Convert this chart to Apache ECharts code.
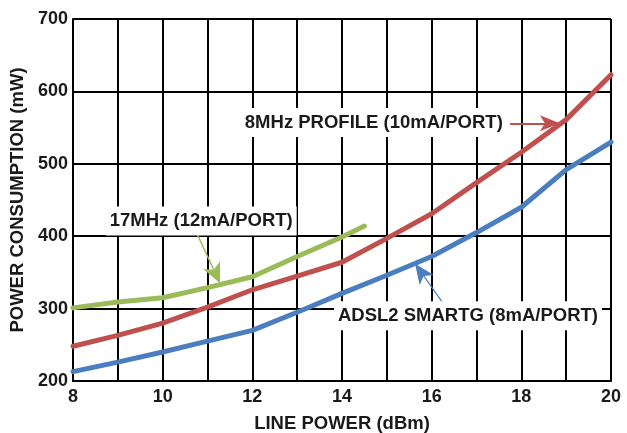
<!DOCTYPE html>
<html>
<head>
<meta charset="utf-8">
<script src="https://cdn.jsdelivr.net/npm/echarts@6/dist/echarts.min.js"></script>
<style>html,body{margin:0;padding:0;background:#fff}#c{width:627px;height:433px}</style>
</head>
<body>
<div id="c"></div>
<script>
// ---- data ----
const xAdsl = [8, 9, 10, 11, 12, 13, 14, 15, 16, 17, 18, 19, 20];
const yAdsl = [213, 226, 240, 255, 270, 295, 321, 346, 372, 405, 440, 492, 530];
const x8MHz = [8, 9, 10, 11, 12, 13, 14, 15, 16, 17, 18, 19, 20];
const y8MHz = [248, 263, 280, 302, 326, 345, 364, 397, 431, 474, 516, 561, 623];
const x17MHz = [8, 9, 10, 11, 12, 13, 14, 14.5];
const y17MHz = [301, 309, 315, 329, 344, 372, 399, 414];
const xTickLabels = ['8', '10', '12', '14', '16', '18', '20'];
const seriesNames = ['ADSL2 SMARTG (8mA/PORT)', '8MHz PROFILE (10mA/PORT)', '17MHz (12mA/PORT)'];
// annotation anchors in data units: label centre, arrow start, arrow tip
const lblAdsl = [16.81, 290]; const arrAdsl = [[16.26, 307], [15.63, 362]];
const lbl8 = [14.71, 557];    const arr8 = [[17.75, 556], [18.86, 556]];
const lbl17 = [10.86, 421];   const arr17 = [[10.76, 404], [11.28, 335]];

const FONT = '"Liberation Sans", Arial, sans-serif';
const TXT = '#1a1a1a';
const zip = (xs, ys) => xs.map((x, i) => [x, ys[i]]);

function mkSeries(name, data, color, lbl, arr, arrW, arrSize) {
  return {
    name, type: 'line', data, symbol: 'none', smooth: false,
    lineStyle: { color, width: 5, cap: 'round', join: 'round' },
    z: 3,
    markLine: {
      silent: true, symbol: ['none', 'arrow'], symbolSize: arrSize,
      lineStyle: { color, width: arrW, type: 'solid' },
      label: { show: false },
      data: [[{ coord: arr[0] }, { coord: arr[1] }]]
    },
    markPoint: {
      silent: true, symbol: 'rect', symbolSize: 0,
      data: [{ coord: lbl }],
      label: {
        show: true, position: 'inside', formatter: name,
        fontFamily: FONT, fontWeight: 'bold', fontSize: 18.5, color: TXT,
        backgroundColor: '#fff', padding: [5, 4]
      }
    }
  };
}

const chart = echarts.init(document.getElementById('c'));
chart.setOption({
  animation: false,
  backgroundColor: '#fff',
  grid: { left: 73, right: 16, top: 19, bottom: 52, containLabel: false, outerBoundsMode: 'none' },
  xAxis: {
    type: 'value', min: 8, max: 20, interval: 1,
    name: 'LINE POWER (dBm)', nameLocation: 'middle', nameGap: 33,
    nameTextStyle: { fontFamily: FONT, fontWeight: 'bold', fontSize: 18.5, color: TXT },
    axisLine: { show: true, lineStyle: { color: '#000', width: 2 } },
    axisTick: { show: false },
    splitLine: { show: true, lineStyle: { color: '#000', width: 2 } },
    axisLabel: {
      margin: 7, fontFamily: FONT, fontWeight: 'bold', fontSize: 18, color: TXT,
      formatter: v => (xTickLabels.indexOf(String(v)) >= 0 ? String(v) : '')
    }
  },
  yAxis: {
    type: 'value', min: 200, max: 700, interval: 100,
    name: 'POWER CONSUMPTION (mW)', nameLocation: 'middle', nameGap: 44,
    nameTextStyle: { fontFamily: FONT, fontWeight: 'bold', fontSize: 18.5, color: TXT },
    axisLine: { show: true, lineStyle: { color: '#000', width: 2 } },
    axisTick: { show: false },
    splitLine: { show: true, lineStyle: { color: '#000', width: 2 } },
    axisLabel: { margin: 5, fontFamily: FONT, fontWeight: 'bold', fontSize: 18, color: TXT }
  },
  series: [
    mkSeries(seriesNames[0], zip(xAdsl, yAdsl), '#4a7ebf', lblAdsl, arrAdsl, 1.2, [13, 20]),
    mkSeries(seriesNames[1], zip(x8MHz, y8MHz), '#c0504d', lbl8, arr8, 2, [12, 20]),
    mkSeries(seriesNames[2], zip(x17MHz, y17MHz), '#9bbb59', lbl17, arr17, 1.5, [14, 20])
  ]
});
</script>
</body>
</html>
